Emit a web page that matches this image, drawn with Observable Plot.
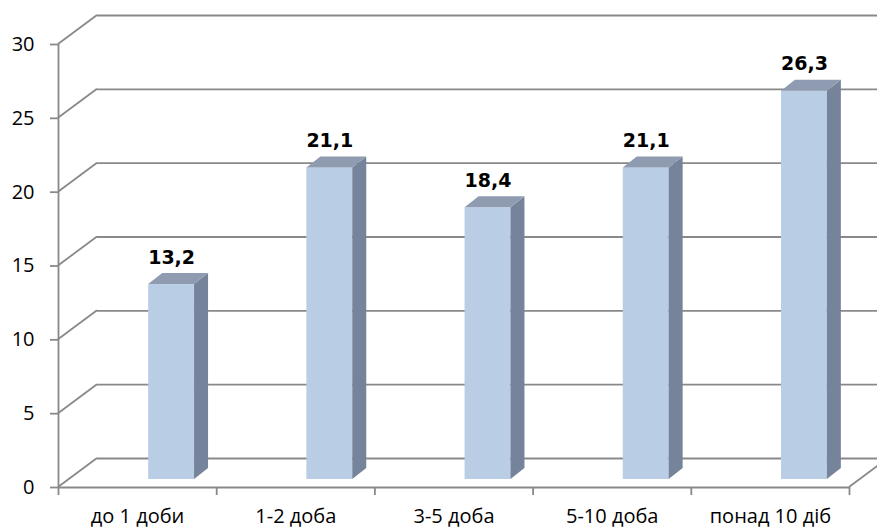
<!DOCTYPE html>
<html><head><meta charset="utf-8">
<script src="https://cdn.jsdelivr.net/npm/d3@7"></script>
<script src="https://cdn.jsdelivr.net/npm/@observablehq/plot@0.6"></script>
<style>body{margin:0;background:#fff} svg{display:block}</style>
</head><body><div id="chart"></div>
<script>
const categories = ["до 1 доби", "1-2 доба", "3-5 доба", "5-10 доба", "понад 10 діб"];
const values = [13.2, 21.1, 18.4, 21.1, 26.3];
const valueLabels = ["13,2", "21,1", "18,4", "21,1", "26,3"];
const yTicks = [0, 5, 10, 15, 20, 25, 30];

const data = categories.map((c, i) => ({category: c, i, value: values[i], label: valueLabels[i]}));
const bounds = d3.range(categories.length + 1);

const W = 877, H = 528;
const wall = {dx: 39, dy: -29};     // depth of the back wall
const barDy = -8;                    // bars stand a little behind the front plane
const side = {dx: 14, dy: -11};      // bar depth
const grid = "#898989";
const font = "'Open Sans', sans-serif";

const chart = Plot.plot({
  width: W, height: H,
  marginLeft: 58, marginRight: 28, marginTop: 44, marginBottom: 41,
  style: {fontFamily: font, background: "#fff", overflow: "hidden"},
  x: {type: "linear", domain: [0, categories.length], axis: null},
  y: {type: "linear", domain: [0, 30], axis: null},
  marks: [
    Plot.ruleY(yTicks, {dx: wall.dx, dy: wall.dy, stroke: grid, strokeWidth: 1.8}),
    Plot.ruleY([0], {stroke: grid, strokeWidth: 1.8}),
    Plot.ruleX([0], {y1: 0, y2: 30, stroke: grid, strokeWidth: 1.8}),
    Plot.axisY({ticks: yTicks, tickSize: 8, tickPadding: 16, fontSize: 20, stroke: grid, strokeWidth: 1.8, color: "#000", label: null, tickFormat: d => String(d)}),
    Plot.axisX({ticks: bounds, tickSize: 8, stroke: grid, strokeWidth: 1.8, label: null, tickFormat: () => ""}),
    Plot.rectY(data, {x1: d => d.i + 0.57, x2: d => d.i + 0.86, y1: 0, y2: "value", dy: barDy, fill: "#b9cde5"}),
    Plot.text(data, {x: d => d.i + 0.715, y: "value", text: "label", dy: -29, lineAnchor: "bottom", fontSize: 19, fontWeight: "bold", fill: "#000", fontFamily: "'DejaVu Sans', sans-serif"}),
    Plot.text(data, {x: d => d.i + 0.5, y: 0, text: "category", dy: 35, lineAnchor: "bottom", fontSize: 20, fill: "#000"})
  ]
});
document.getElementById("chart").appendChild(chart);

// 3D pieces drawn from the same Plot scales
const sx = chart.scale("x").apply, sy = chart.scale("y").apply;
const NS = "http://www.w3.org/2000/svg";
const gDiag = document.createElementNS(NS, "g");
const firstRect = chart.querySelector("g[aria-label='rect']");
if (firstRect && firstRect.parentNode) firstRect.parentNode.insertBefore(gDiag, firstRect);
else chart.appendChild(gDiag);
const dg = d3.select(gDiag);
// diagonals from the front axis to the back wall
yTicks.forEach(t => {
  dg.append("line").attr("x1", sx(0)).attr("y1", sy(t))
    .attr("x2", sx(0) + wall.dx).attr("y2", sy(t) + wall.dy)
    .attr("stroke", grid).attr("stroke-width", 1.8);
});
dg.append("line").attr("x1", sx(categories.length)).attr("y1", sy(0))
  .attr("x2", sx(categories.length) + wall.dx).attr("y2", sy(0) + wall.dy)
  .attr("stroke", grid).attr("stroke-width", 1.8);
// bar sides and tops
const gBars = d3.select(chart).append("g");
data.forEach(d => {
  const xl = sx(d.i + 0.57), xr = sx(d.i + 0.86);
  const yb = sy(0) + barDy, yt = sy(d.value) + barDy;
  gBars.append("polygon").attr("points", [[xr, yt], [xr + side.dx, yt + side.dy], [xr + side.dx, yb + side.dy], [xr, yb]].join(" "))
    .attr("fill", "#75849a");
  gBars.append("polygon").attr("points", [[xl, yt], [xl + side.dx, yt + side.dy], [xr + side.dx, yt + side.dy], [xr, yt]].join(" "))
    .attr("fill", "#8e9bb0");
});
</script></body></html>
